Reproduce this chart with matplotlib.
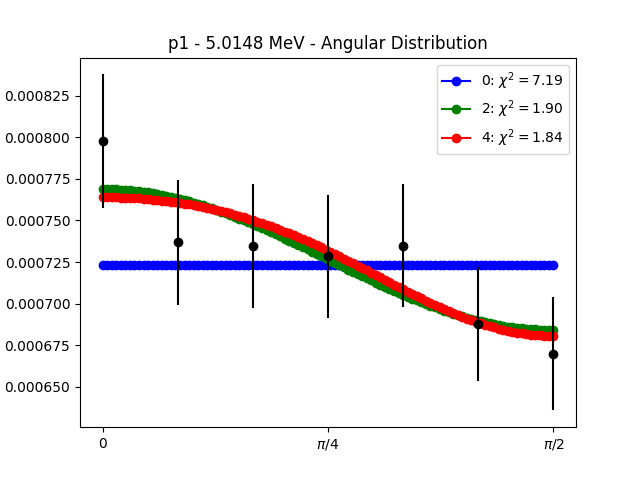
import numpy as np
import matplotlib
matplotlib.use("Agg")
import matplotlib.pyplot as plt
from matplotlib.ticker import MultipleLocator
from numpy.polynomial import legendre as L

# Measured data
angles_frac = [0, 1/12, 2/12, 3/12, 4/12, 5/12, 6/12]   # fraction of pi
values = [0.0007977, 0.0007369, 0.0007348, 0.0007285, 0.0007348, 0.0006877, 0.0006700]
errors = [0.0000400, 0.0000376, 0.0000373, 0.0000370, 0.0000370, 0.0000341, 0.0000341]

# Legendre fit coefficients (in cos(theta)), orders 0, 2, 4
fit_orders = [0, 2, 4]
fit_coeffs = [
    [0.0007234],
    [0.0007124, 0.0, 0.0000565],
    [0.0007135, 0.0, 0.0000591, 0.0, -0.00000869],
]
chi2 = [7.19, 1.90, 1.84]
colors = ["blue", "green", "red"]

title = "p1 - 5.0148 MeV - Angular Distribution"
xtick_pos = [0, np.pi / 4, np.pi / 2]
xtick_labels = ["0", r"$\pi/4$", r"$\pi/2$"]

fig, ax = plt.subplots(figsize=(6.4, 4.8), dpi=100)

theta = np.linspace(0, np.pi / 2, 100)
for order, c, x2, col in zip(fit_orders, fit_coeffs, chi2, colors):
    ax.plot(theta, L.legval(np.cos(theta), c), "o-", color=col,
            label=f"{order}: $\\chi^2 = {x2:.2f}$")

xd = np.array(angles_frac) * np.pi
ax.errorbar(xd, values, yerr=errors, fmt="o", color="black")

ax.set_xticks(xtick_pos)
ax.set_xticklabels(xtick_labels)
ax.yaxis.set_major_locator(MultipleLocator(0.000025))
ax.set_title(title)
ax.legend()

fig.savefig("out.png", dpi=100)
